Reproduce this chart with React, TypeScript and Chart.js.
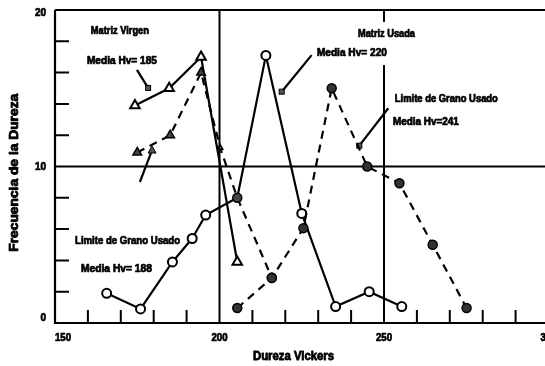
import React, { useEffect, useRef } from "react";
import { Chart, registerables } from "chart.js";
Chart.register(...registerables);

// ---- axis ranges & tick labels ----
const xMin = 150;
const xMax = 300;
const yMin = 0;
const yMax = 20;
const xTickValues = [150, 200, 250, 300];
const xTickLabels = ["150", "200", "250", "300"];
const yTickValues = [0, 10, 20];
const yTickLabels = ["0", "10", "20"];
const xMinorTicks = [160, 170, 180, 190, 210, 220, 230, 240, 260, 270, 280, 290];
const yMinorTicks = [2, 4, 6, 8, 12, 14, 16, 18];
const xGridValues = [200, 250];
const yGridValues = [10];

// ---- series ----
// Matriz Virgen (solid, open triangles)
const matrizVirgenX = [174.3, 184.7, 194.4, 205.4];
const matrizVirgenY = [13.9, 15.0, 17.0, 3.9];
// dashed, grey triangles
const limiteVirgenDashX = [175.0, 185.0, 194.4, 200.2, 205.4, 215.9];
const limiteVirgenDashY = [10.9, 12.0, 16.0, 11.2, 8.0, 2.9];
// solid, open circles (Limite de Grano ... Hv=188 + Matriz Usada Hv=220)
const matrizUsadaX = [165.7, 176.0, 185.7, 191.7, 195.8, 205.4, 214.1, 225.0, 235.3, 245.5, 255.4];
const matrizUsadaY = [1.9, 0.9, 3.9, 5.4, 6.9, 8.0, 17.1, 7.0, 1.05, 2.0, 1.05];
// Limite de Grano Usado (dashed, dark circles)
const limiteUsadoX = [205.4, 215.9, 225.5, 234.1, 244.9, 254.7, 264.8, 275.1];
const limiteUsadoY = [0.96, 2.87, 6.06, 15.0, 10.0, 8.93, 5.0, 0.96];

// ---- annotations ----
const labelTexts = [
  "Matriz Virgen",
  "Media Hv= 185",
  "Matriz Usada",
  "Media Hv= 220",
  "Limite de Grano Usado",
  "Media Hv=241",
  "Limite de Grano Usado",
  "Media Hv= 188",
];
const labelX = [160.9, 159.7, 242.1, 229.6, 253.3, 252.7, 156.1, 157.9];
const labelY = [18.66, 16.74, 18.47, 17.25, 14.31, 12.84, 5.24, 3.45];
const labelWidths = [58, 70, 57, 70, 103, 66, 105, 71];

const arrowFromX = [174.9, 228.0, 251.3, 175.8];
const arrowFromY = [16.17, 17.12, 13.72, 9.01];
const arrowToX = [178.3, 218.9, 242.5, 179.5];
const arrowToY = [15.02, 14.78, 11.33, 11.05];

const xTitle = "Dureza Vickers";
const yTitle = "Frecuencia de la Dureza";

const FONT = '"Liberation Sans", Arial, Helvetica, sans-serif';

function toPts(xs: number[], ys: number[]) {
  return xs.map((x, i) => ({ x, y: ys[i] }));
}

function fitText(
  ctx: CanvasRenderingContext2D,
  text: string,
  x: number,
  y: number,
  width: number,
  size: number,
  align: "left" | "center" | "right",
  heavy = 0.7
) {
  ctx.save();
  ctx.font = `bold ${size}px ${FONT}`;
  const w = ctx.measureText(text).width;
  const s = width / w;
  let left = x;
  if (align === "center") left = x - width / 2;
  if (align === "right") left = x - width;
  ctx.translate(left, y);
  ctx.scale(s, 1);
  ctx.textAlign = "left";
  ctx.textBaseline = "middle";
  ctx.fillStyle = "#000";
  ctx.fillText(text, 0, 0);
  if (heavy > 0) {
    ctx.strokeStyle = "#000";
    ctx.lineWidth = heavy;
    ctx.lineJoin = "round";
    ctx.strokeText(text, 0, 0);
  }
  ctx.restore();
}

const decorPlugin = {
  id: "decor",
  beforeDatasetsDraw(chart: any) {
    const ctx: CanvasRenderingContext2D = chart.ctx;
    const xs = chart.scales.x;
    const ys = chart.scales.y;
    const a = chart.chartArea;
    ctx.save();
    ctx.strokeStyle = "#000";
    ctx.lineCap = "butt";
    // frame
    ctx.lineWidth = 2.2;
    ctx.beginPath();
    ctx.moveTo(a.left, a.top);
    ctx.lineTo(a.left, a.bottom);
    ctx.lineTo(a.right, a.bottom);
    ctx.moveTo(a.left, a.top);
    ctx.lineTo(a.right, a.top);
    ctx.lineTo(a.right, a.bottom);
    ctx.stroke();
    // grid lines
    ctx.lineWidth = 2;
    ctx.beginPath();
    xGridValues.forEach((v) => {
      const px = xs.getPixelForValue(v);
      ctx.moveTo(px, a.top);
      ctx.lineTo(px, a.bottom);
    });
    yGridValues.forEach((v) => {
      const py = ys.getPixelForValue(v);
      ctx.moveTo(a.left, py);
      ctx.lineTo(a.right, py);
    });
    ctx.stroke();
    // minor ticks (inward)
    ctx.lineWidth = 2;
    ctx.beginPath();
    xMinorTicks.forEach((v) => {
      const px = xs.getPixelForValue(v);
      ctx.moveTo(px, a.bottom);
      ctx.lineTo(px, a.bottom - 13);
    });
    yMinorTicks.forEach((v) => {
      const py = ys.getPixelForValue(v);
      ctx.moveTo(a.left, py);
      ctx.lineTo(a.left + 14, py);
    });
    ctx.stroke();
    ctx.restore();

    // tick labels
    xTickValues.forEach((v, i) => {
      const px = xs.getPixelForValue(v);
      const align = i === 0 ? "left" : "center";
      fitText(ctx, xTickLabels[i], px, a.bottom + 15, 16, 10, align as any);
    });
    yTickValues.forEach((v, i) => {
      const py = ys.getPixelForValue(v);
      const off = v === yMin ? -5 : v === yMax ? 3 : 1;
      const w = yTickLabels[i].length * 5.5;
      fitText(ctx, yTickLabels[i], a.left - 9, py + off, w, 10, "right");
    });

    // axis titles
    fitText(ctx, xTitle, xs.getPixelForValue(222.5), a.bottom + 34, 81, 12, "center", 0.8);
    ctx.save();
    ctx.translate(15, ys.getPixelForValue(9.6));
    ctx.rotate(-Math.PI / 2);
    fitText(ctx, yTitle, 0, 0, 158, 12, "center", 0.8);
    ctx.restore();

    // annotation labels with white background
    labelTexts.forEach((t, i) => {
      const px = xs.getPixelForValue(labelX[i]);
      const py = ys.getPixelForValue(labelY[i]);
      ctx.save();
      ctx.fillStyle = "#fff";
      ctx.fillRect(px - 3, py - 12, labelWidths[i] + 6, 24);
      ctx.restore();
    });
    labelTexts.forEach((t, i) => {
      const px = xs.getPixelForValue(labelX[i]);
      const py = ys.getPixelForValue(labelY[i]);
      fitText(ctx, t, px, py, labelWidths[i], 10, "left");
    });

    // arrows
    ctx.save();
    ctx.strokeStyle = "#000";
    ctx.lineWidth = 2.2;
    arrowFromX.forEach((fx, i) => {
      const x1 = xs.getPixelForValue(fx);
      const y1 = ys.getPixelForValue(arrowFromY[i]);
      const x2 = xs.getPixelForValue(arrowToX[i]);
      const y2 = ys.getPixelForValue(arrowToY[i]);
      ctx.beginPath();
      ctx.moveTo(x1, y1);
      ctx.lineTo(x2, y2);
      ctx.stroke();
      ctx.fillStyle = "#555";
      ctx.strokeStyle = "#000";
      ctx.lineWidth = 1;
      if (i === 3) {
        ctx.beginPath();
        ctx.moveTo(x2, y2 - 4);
        ctx.lineTo(x2 + 4, y2 + 3);
        ctx.lineTo(x2 - 4, y2 + 3);
        ctx.closePath();
        ctx.fill();
        ctx.stroke();
      } else {
        ctx.fillRect(x2 - 2.5, y2 - 2.5, 5, 5);
        ctx.strokeRect(x2 - 2.5, y2 - 2.5, 5, 5);
      }
      ctx.lineWidth = 2.2;
    });
    ctx.restore();
  },
};

export default function App() {
  const ref = useRef<HTMLCanvasElement | null>(null);
  useEffect(() => {
    if (!ref.current) return;
    const chart = new Chart(ref.current, {
      type: "line",
      data: {
        datasets: [
          {
            label: "Limite de Grano Usado",
            data: toPts(limiteUsadoX, limiteUsadoY),
            borderColor: "#000",
            borderWidth: 2.2,
            borderDash: [8, 6],
            pointStyle: "circle",
            pointRadius: 4.5,
            pointBackgroundColor: "#333",
            pointBorderColor: "#000",
            pointBorderWidth: 1.5,
            fill: false,
            tension: 0,
          },
          {
            label: "Limite Virgen",
            data: toPts(limiteVirgenDashX, limiteVirgenDashY),
            borderColor: "#000",
            borderWidth: 2.2,
            borderDash: [8, 6],
            pointStyle: ["triangle", "triangle", "triangle", "triangle", "circle", "circle"] as any,
            pointRadius: [5, 5, 5, 3, 4.5, 4.5] as any,
            pointBackgroundColor: "#444",
            pointBorderColor: "#000",
            pointBorderWidth: 1.5,
            fill: false,
            tension: 0,
          },
          {
            label: "Matriz Usada",
            data: toPts(matrizUsadaX, matrizUsadaY),
            borderColor: "#000",
            borderWidth: 2.2,
            pointStyle: "circle",
            pointRadius: [4.5, 4.5, 4.5, 4.5, 4.5, 0, 4.5, 4.5, 4.5, 4.5, 4.5] as any,
            pointBackgroundColor: "#fff",
            pointBorderColor: "#000",
            pointBorderWidth: 2,
            fill: false,
            tension: 0,
          },
          {
            label: "Matriz Virgen",
            data: toPts(matrizVirgenX, matrizVirgenY),
            borderColor: "#000",
            borderWidth: 2.2,
            pointStyle: "triangle",
            pointRadius: 5.5,
            pointBackgroundColor: "#fff",
            pointBorderColor: "#000",
            pointBorderWidth: 2,
            fill: false,
            tension: 0,
          },
        ],
      },
      options: {
        animation: false,
        responsive: false,
        devicePixelRatio: 1,
        layout: { padding: { left: 55, top: 10, right: 11.5, bottom: 43 } },
        plugins: { legend: { display: false }, tooltip: { enabled: false } },
        events: [],
        scales: {
          x: { type: "linear", min: xMin, max: xMax, display: false },
          y: { type: "linear", min: yMin, max: yMax, display: false },
        },
      },
      plugins: [decorPlugin],
    });
    return () => chart.destroy();
  }, []);
  return (
    <div
      style={{
        position: "fixed",
        left: 0,
        top: 0,
        width: 545,
        height: 366,
        overflow: "hidden",
        background: "#fff",
      }}
    >
      <canvas ref={ref} width={560} height={366} style={{ display: "block" }} />
    </div>
  );
}
